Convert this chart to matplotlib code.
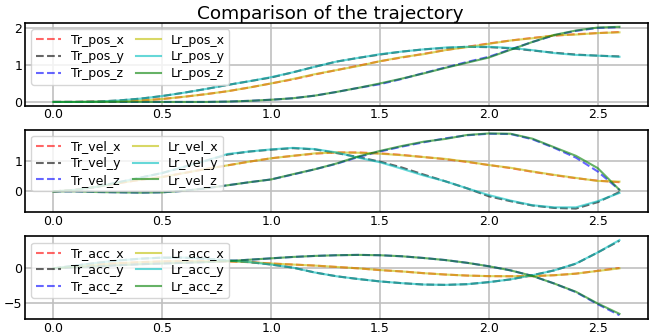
import numpy as np
import matplotlib
matplotlib.use("Agg")
import matplotlib.pyplot as plt

t = [0.0, 0.1, 0.2, 0.3, 0.4, 0.5, 0.6, 0.7, 0.8, 0.9, 1.0, 1.1, 1.2, 1.3,
     1.4, 1.5, 1.6, 1.7, 1.8, 1.9, 2.0, 2.1, 2.2, 2.3, 2.4, 2.5, 2.6]

# reference trajectory
tr_pos_x = [0, 0, 0.01, 0.02, 0.04, 0.08, 0.14, 0.21, 0.29, 0.39, 0.5, 0.61, 0.74, 0.86,
            0.98, 1.1, 1.2, 1.3, 1.4, 1.49, 1.58, 1.66, 1.73, 1.79, 1.83, 1.86, 1.89]
tr_pos_y = [0, 0, 0.01, 0.04, 0.09, 0.16, 0.25, 0.35, 0.46, 0.56, 0.66, 0.8, 0.95, 1.09,
            1.19, 1.28, 1.36, 1.42, 1.46, 1.49, 1.48, 1.45, 1.39, 1.33, 1.28, 1.25, 1.23]
tr_pos_z = [0, 0, 0, 0, 0, 0, 0, 0, 0.01, 0.03, 0.06, 0.1, 0.17, 0.27,
            0.38, 0.48, 0.62, 0.78, 0.93, 1.08, 1.22, 1.42, 1.62, 1.8, 1.92, 2.0, 2.02]

tr_vel_x = [0, 0.05, 0.15, 0.27, 0.38, 0.47, 0.6, 0.73, 0.85, 0.97, 1.08, 1.16, 1.23, 1.27,
            1.27, 1.24, 1.19, 1.12, 1.05, 0.96, 0.86, 0.76, 0.64, 0.53, 0.43, 0.35, 0.3]
tr_vel_y = [0, 0.05, 0.15, 0.3, 0.45, 0.6, 0.8, 1.0, 1.2, 1.3, 1.36, 1.41, 1.37, 1.25,
            1.12, 0.97, 0.78, 0.55, 0.33, 0.1, -0.16, -0.32, -0.46, -0.54, -0.56, -0.35, -0.02]
tr_vel_z = [0, 0, -0.02, -0.03, -0.04, -0.03, 0.02, 0.1, 0.2, 0.3, 0.39, 0.55, 0.72, 0.9,
            1.12, 1.3, 1.46, 1.6, 1.73, 1.83, 1.88, 1.87, 1.7, 1.42, 1.1, 0.65, 0.05]

tr_acc_x = [0, 0.3, 0.55, 0.75, 0.9, 1.0, 1.05, 1.05, 1.0, 0.9, 0.7, 0.55, 0.4, 0.2,
            0.0, -0.26, -0.45, -0.7, -0.9, -1.05, -1.13, -1.15, -1.13, -1.0, -0.77, -0.36, 0.05]
tr_acc_y = [0, 0.4, 0.8, 1.15, 1.4, 1.55, 1.55, 1.4, 1.15, 0.9, 0.55, 0.1, -0.6, -1.15,
            -1.55, -1.9, -2.15, -2.35, -2.4, -2.3, -2.0, -1.6, -1.0, -0.3, 0.67, 2.3, 4.0]
tr_acc_z = [0, 0.15, 0.3, 0.45, 0.6, 0.7, 0.8, 0.9, 1.05, 1.25, 1.45, 1.65, 1.8, 1.9,
            1.95, 1.9, 1.75, 1.5, 1.2, 0.8, 0.3, -0.3, -1.1, -2.2, -3.45, -5.2, -6.8]

# learned trajectory
lr_pos_x = [0, 0, 0.01, 0.02, 0.04, 0.08, 0.14, 0.21, 0.29, 0.39, 0.5, 0.62, 0.75, 0.86,
            0.97, 1.1, 1.21, 1.29, 1.4, 1.48, 1.57, 1.66, 1.72, 1.8, 1.82, 1.86, 1.88]
lr_pos_y = [0, 0, 0.01, 0.04, 0.09, 0.16, 0.25, 0.35, 0.46, 0.56, 0.67, 0.8, 0.95, 1.09,
            1.19, 1.29, 1.36, 1.42, 1.47, 1.49, 1.49, 1.46, 1.4, 1.32, 1.27, 1.25, 1.22]
lr_pos_z = [0, 0, 0, 0, 0, 0, 0, 0, 0.01, 0.03, 0.06, 0.1, 0.17, 0.27,
            0.38, 0.5, 0.63, 0.77, 0.92, 1.06, 1.2, 1.41, 1.62, 1.81, 1.93, 2.01, 2.03]

lr_vel_x = [0, 0.05, 0.15, 0.27, 0.38, 0.47, 0.6, 0.73, 0.85, 0.97, 1.08, 1.16, 1.24, 1.27,
            1.26, 1.23, 1.18, 1.12, 1.06, 0.97, 0.86, 0.77, 0.65, 0.54, 0.44, 0.34, 0.32]
lr_vel_y = [0, 0.05, 0.15, 0.3, 0.45, 0.6, 0.8, 1.0, 1.22, 1.3, 1.37, 1.42, 1.38, 1.27,
            1.1, 0.95, 0.74, 0.52, 0.33, 0.1, -0.12, -0.3, -0.45, -0.52, -0.52, -0.32, -0.05]
lr_vel_z = [0, 0, -0.02, -0.03, -0.04, -0.03, 0.02, 0.1, 0.2, 0.3, 0.39, 0.56, 0.72, 0.91,
            1.14, 1.32, 1.48, 1.62, 1.71, 1.84, 1.89, 1.88, 1.72, 1.44, 1.16, 0.76, 0.05]

lr_acc_x = [0, 0.3, 0.55, 0.75, 0.9, 1.0, 1.05, 1.05, 1.0, 0.9, 0.7, 0.55, 0.4, 0.2,
            0.0, -0.25, -0.45, -0.7, -0.9, -1.05, -1.13, -1.15, -1.12, -1.0, -0.77, -0.38, 0.0]
lr_acc_y = [0, 0.4, 0.8, 1.15, 1.4, 1.55, 1.55, 1.4, 1.15, 0.9, 0.55, 0.1, -0.6, -1.15,
            -1.55, -1.9, -2.15, -2.35, -2.4, -2.3, -2.0, -1.6, -1.0, -0.3, 0.7, 2.3, 4.1]
lr_acc_z = [0, 0.15, 0.3, 0.45, 0.6, 0.7, 0.8, 0.9, 1.05, 1.25, 1.45, 1.65, 1.8, 1.9,
            1.95, 1.9, 1.75, 1.5, 1.2, 0.8, 0.3, -0.3, -1.1, -2.2, -3.4, -5.1, -6.6]

panels = [
    ("pos", [tr_pos_x, tr_pos_y, tr_pos_z], [lr_pos_x, lr_pos_y, lr_pos_z], [0, 1, 2]),
    ("vel", [tr_vel_x, tr_vel_y, tr_vel_z], [lr_vel_x, lr_vel_y, lr_vel_z], [0, 1]),
    ("acc", [tr_acc_x, tr_acc_y, tr_acc_z], [lr_acc_x, lr_acc_y, lr_acc_z], [-5, 0]),
]
tr_colors = ['r', 'k', 'b']
lr_colors = ['y', 'c', 'g']
axis_names = ['x', 'y', 'z']

fig, axs = plt.subplots(3, 1, figsize=(6.61, 3.34), dpi=100)
fig.subplots_adjust(left=0.038, right=0.980, top=0.931, bottom=0.045, hspace=0.29)

for ax, (name, tr, lr, yt) in zip(axs, panels):
    for i in range(3):
        ax.plot(t, tr[i], '--', color=tr_colors[i], alpha=0.6,
                label='Tr_%s_%s' % (name, axis_names[i]))
    for i in range(3):
        ax.plot(t, lr[i], '-', color=lr_colors[i], alpha=0.6,
                label='Lr_%s_%s' % (name, axis_names[i]))
    ax.set_yticks(yt)
    ax.set_xticks([0.0, 0.5, 1.0, 1.5, 2.0, 2.5])
    ax.grid(True, color='#c0c0c0', linewidth=1.2)
    ax.tick_params(direction='in', length=0, pad=2, labelsize=9)
    for s in ax.spines.values():
        s.set_linewidth(1.2)
    ax.legend(loc='upper left', ncol=2, fontsize=9, handlelength=2.0,
              borderpad=0.35, labelspacing=0.3, columnspacing=1.0)

fig.suptitle('Comparison of the trajectory', fontsize=13.3, y=0.985)
fig.savefig('out.png')
